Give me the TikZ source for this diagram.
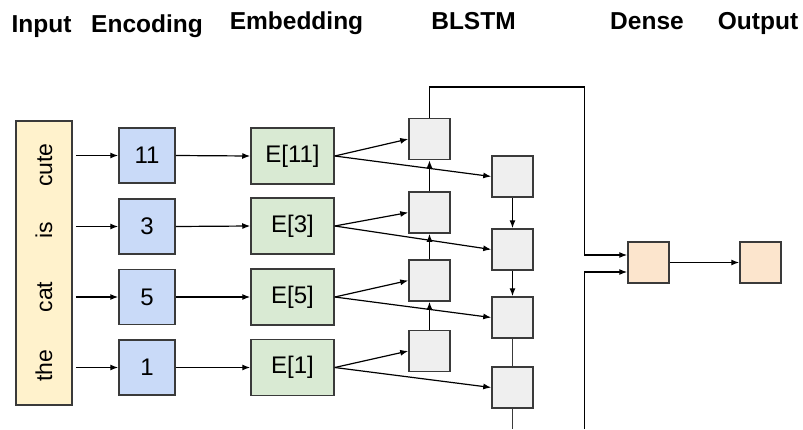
\documentclass[tikz,border=0pt]{standalone}
\usepackage{fontspec}
\setmainfont{Liberation Sans}
\usetikzlibrary{arrows.meta}
\definecolor{inyellow}{HTML}{FFF2CC}
\definecolor{encblue}{HTML}{C9DAF8}
\definecolor{embgreen}{HTML}{D9EAD3}
\definecolor{cellgray}{HTML}{EFEFEF}
\definecolor{densepeach}{HTML}{FCE5CD}
\definecolor{edge}{HTML}{3A3A3A}

\begin{document}
\begin{tikzpicture}[x=1pt,y=-1pt,
  txt/.style={font=\fontsize{24}{28}\selectfont},
  head/.style={font=\fontsize{24.5}{29}\selectfont\bfseries, anchor=base, inner sep=0pt},
  box/.style={draw=edge, line width=1.5pt, inner sep=0pt, txt},
  inbox/.style={box, fill=inyellow, minimum width=56pt, minimum height=284pt},
  enc/.style={box, fill=encblue, minimum width=56pt, minimum height=55pt},
  emb/.style={box, fill=embgreen, minimum width=83pt, minimum height=56pt},
  cell/.style={box, fill=cellgray, minimum width=41pt, minimum height=41pt},
  peach/.style={box, fill=densepeach, minimum width=41pt, minimum height=41pt},
  word/.style={font=\fontsize{23}{27}\selectfont, rotate=90, anchor=base, inner sep=0pt},
  arr/.style={-{Latex[length=8pt,width=6pt]}, line width=1.2pt, black},
  wire/.style={line width=1.4pt, edge},
]
\useasboundingbox (0,0) rectangle (803,429);

% column headings
\node[head] (hin)  at (41.5,32) {Input};
\node[head] (henc) at (147,32) {Encoding};
\node[head] (hemb) at (296.5,29) {Embedding};
\node[head] (hbl)  at (473.5,29) {BLSTM};
\node[head] (hden) at (647,29) {Dense};
\node[head] (hout) at (758,29) {Output};

% input sentence
\node[inbox] (inp) at (44,263) {};
\node[word] (w1) at (52,165) {cute};
\node[word] (w2) at (52,230) {is};
\node[word] (w3) at (52,297) {cat};
\node[word] (w4) at (52,366) {the};

% token ids
\node[enc] (e1) at (147,155.5) {11};
\node[enc] (e2) at (147,226.5) {3};
\node[enc] (e3) at (147,297) {5};
\node[enc] (e4) at (147,367.5) {1};

% embeddings
\node[emb] (m1) at (292.5,156) {E[11]};
\node[emb] (m2) at (292.5,226) {E[3]};
\node[emb] (m3) at (292.5,297) {E[5]};
\node[emb] (m4) at (292.5,367.5) {E[1]};

% forward LSTM cells
\node[cell] (f1) at (429.5,139) {};
\node[cell] (f2) at (429.5,212.5) {};
\node[cell] (f3) at (429.5,280.5) {};
\node[cell] (f4) at (429.5,351) {};

% backward LSTM cells
\node[cell] (b1) at (512.5,176.5) {};
\node[cell] (b2) at (512.5,249.5) {};
\node[cell] (b3) at (512.5,317.5) {};
\node[cell] (b4) at (512.5,387.5) {};

% dense layer and output
\node[peach] (d) at (648.5,262.5) {};
\node[peach] (o) at (760.5,262.5) {};

% words to ids
\foreach \i in {1,...,4}{
  \draw[arr, shorten <=3pt] (inp.east |- e\i.west) -- (e\i.west);
  \draw[arr] (e\i.east) -- (m\i.west);
}

% embeddings into both directions
\foreach \i in {1,...,4}{
  \draw[arr] (m\i.east) -- (f\i.west);
  \draw[arr] (m\i.east) -- (b\i.west);
}

% forward recurrence (upwards)
\draw[arr] (f4.north) -- (f3.south);
\draw[arr] (f3.north) -- (f2.south);
\draw[arr] (f2.north) -- (f1.south);

% backward recurrence (downwards)
\draw[arr] (b1.south) -- (b2.north);
\draw[arr] (b2.south) -- (b3.north);
\draw[wire] (b3.south) -- (b4.north);
\coordinate (bend) at (512.5,429);
\draw[wire] (b4.south) -- (bend);

% final states into the dense layer
\coordinate (ftop) at (584.5,87);
\coordinate (bbot) at (584.5,429);
\draw[arr] (f1.north) |- (ftop) |- ([yshift=7.5pt]d.west);
\draw[arr] (bbot) |- ([yshift=-9.5pt]d.west);

\draw[arr] (d.east) -- (o.west);
\end{tikzpicture}
\end{document}
